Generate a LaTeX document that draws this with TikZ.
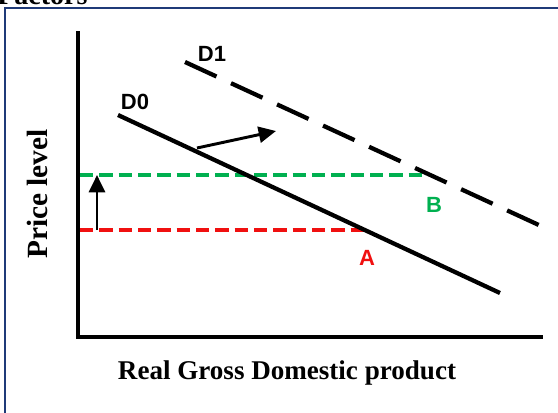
\documentclass[tikz,border=0pt]{standalone}
\usepackage{fontspec}
\setmainfont{Liberation Serif}
\newfontfamily\labfont{Liberation Sans}
\usetikzlibrary{arrows.meta}
\definecolor{framec}{HTML}{1F3A78}
\definecolor{grn}{HTML}{00B050}
\definecolor{rd}{HTML}{F01010}
\tikzset{
  axis/.style={line width=3pt, line cap=rect},
  curve/.style={line width=3.2pt},
  dcurve/.style={line width=3.2pt, dash pattern=on 26pt off 12pt},
  level/.style={line width=3pt, dash pattern=on 10pt off 4.5pt},
  shiftarrow/.style={line width=2.2pt, -{Triangle[length=13pt,width=12pt]}},
  curvelab/.style={font=\labfont\bfseries\fontsize{16.5}{19}\selectfont, inner sep=0pt},
  axislab/.style={font=\bfseries\fontsize{21}{24}\selectfont, inner sep=0pt}
}
\begin{document}
\begin{tikzpicture}[x=0.75pt,y=-0.75pt]
\useasboundingbox (0,0) rectangle (558,412);
\clip (0,0) rectangle (558,412);
\node[axislab, anchor=base west] (fac) at (-3,4) {Factors};
\draw[framec, line width=1.5pt] (5,414) -- (5,8) -- (562,8);
% coordinates
\coordinate (ytop) at (78,33);
\coordinate (orig) at (78,337);
\coordinate (xend) at (541,337);
\coordinate (d0s) at (118,115);
\coordinate (d0e) at (500,293);
\coordinate (d1s) at (185,62);
\coordinate (d1e) at (541,226);
\coordinate (r0) at (80,230);
\coordinate (rA) at (367,230);
\coordinate (g0) at (80,175);
\coordinate (gB) at (422,175);
\coordinate (ua0) at (97,230);
\coordinate (ua1) at (97,175);
\coordinate (sa0) at (197,148);
\coordinate (sa1) at (276,131);
% level lines
\draw[level, rd] (r0) -- (rA);
\draw[level, grn] (g0) -- (gB);
% axes
\draw[axis] (ytop) -- (orig) -- (xend);
% curves
\draw[dcurve] (d1s) -- (d1e);
\draw[curve] (d0s) -- (d0e);
% arrows
\draw[shiftarrow] (ua0) -- (ua1);
\draw[shiftarrow] (sa0) -- (sa1);
% labels
\node[curvelab] (D0) at (135,102) {D0};
\node[curvelab] (D1) at (212,54) {D1};
\node[curvelab, text=grn] (B) at (434,205) {B};
\node[curvelab, text=rd] (A) at (367,258) {A};
\node[axislab, font=\bfseries\fontsize{22}{24}\selectfont, rotate=90] (ylab) at (37,194) {Price level};
\node[axislab, font=\bfseries\fontsize{20.3}{24}\selectfont] (xlab) at (287,373) {Real Gross Domestic product};
\end{tikzpicture}
\end{document}
